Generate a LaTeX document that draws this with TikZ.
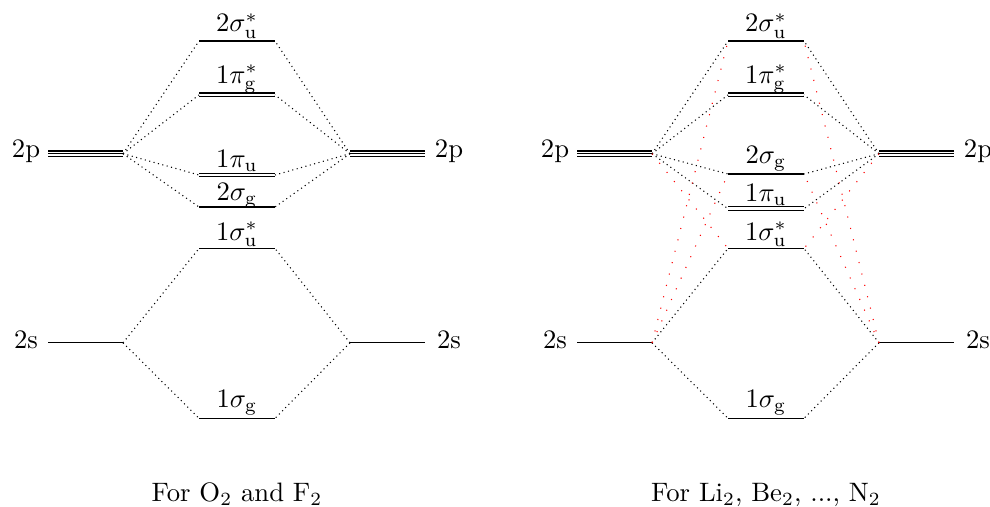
\documentclass[tikz,border=0pt]{standalone}
\begin{document}
\begin{tikzpicture}[x=0.375pt,y=-0.375pt,
  lvl/.style={line width=0.4pt},
  conn/.style={line width=0.4pt, dash pattern=on 0.4pt off 1.3pt},
  redconn/.style={red, line width=0.4pt, dash pattern=on 0.4pt off 4pt},
  atlab/.style={anchor=base, inner sep=0pt},
  molab/.style={anchor=base, inner sep=0pt}]
\useasboundingbox (0,0) rectangle (990,506);

\foreach \o/\p in {0/L,529/R}{
  % atomic 2p (triple) left and right
  \draw[lvl] (48+\o,151) -- (123+\o,151);
  \draw[lvl] (48+\o,153.7) coordinate (\p pA) -- (123+\o,153.7) coordinate (\p pAe);
  \draw[lvl] (48+\o,156.5) -- (123+\o,156.5);
  \draw[lvl] (350+\o,151) -- (425+\o,151);
  \draw[lvl] (350+\o,153.7) coordinate (\p pBe) -- (425+\o,153.7) coordinate (\p pB);
  \draw[lvl] (350+\o,156.5) -- (425+\o,156.5);
  \node[atlab] (\p pAlab) at (26+\o,157) {2p};
  \node[atlab] (\p pBlab) at (449+\o,157) {2p};
  % atomic 2s
  \draw[lvl] (48+\o,342.8) -- (123+\o,342.8) coordinate (\p sAe);
  \draw[lvl] (350+\o,342.8) coordinate (\p sBe) -- (425+\o,342.8);
  \node[atlab] (\p sAlab) at (26+\o,348.5) {2s};
  \node[atlab] (\p sBlab) at (449+\o,348.5) {2s};
  % 2sigma_u^*
  \draw[lvl] (199+\o,41) coordinate (\p suL) -- (275+\o,41) coordinate (\p suR);
  \node[molab] (\p sulab) at (237+\o,32) {$2\sigma_{\rm u}^*$};
  % 1pi_g^*
  \draw[lvl] (199+\o,93) -- (275+\o,93);
  \draw[lvl] (199+\o,96.8) -- (275+\o,96.8);
  \coordinate (\p pgL) at (199+\o,94.9);
  \coordinate (\p pgR) at (275+\o,94.9);
  \node[molab] (\p pglab) at (237+\o,83.3) {$1\pi_{\rm g}^*$};
  % 1sigma_u^*
  \draw[lvl] (199+\o,248.5) coordinate (\p ssuL) -- (275+\o,248.5) coordinate (\p ssuR);
  \node[molab] (\p ssulab) at (237+\o,240) {$1\sigma_{\rm u}^*$};
  % 1sigma_g
  \draw[lvl] (199+\o,418.3) coordinate (\p ssgL) -- (275+\o,418.3) coordinate (\p ssgR);
  \node[molab] (\p ssglab) at (237+\o,407) {$1\sigma_{\rm g}$};
}

% ---- left: 1pi_u above 2sigma_g
\draw[lvl] (199,173.3) -- (275,173.3);
\draw[lvl] (199,176.8) -- (275,176.8);
\coordinate (LpuL) at (199,175);
\coordinate (LpuR) at (275,175);
\node[molab] (Lpulab) at (237,167) {$1\pi_{\rm u}$};
\draw[lvl] (199,207) coordinate (LsgL) -- (275,207) coordinate (LsgR);
\node[molab] (Lsglab) at (237,200) {$2\sigma_{\rm g}$};

% ---- right: 2sigma_g above 1pi_u
\draw[lvl] (728,174) coordinate (RsgL) -- (804,174) coordinate (RsgR);
\node[molab] (Rsglab) at (766,163.3) {$2\sigma_{\rm g}$};
\draw[lvl] (728,206.8) -- (804,206.8);
\draw[lvl] (728,210.6) -- (804,210.6);
\coordinate (RpuL) at (728,208.7);
\coordinate (RpuR) at (804,208.7);
\node[molab] (Rpulab) at (766,201.7) {$1\pi_{\rm u}$};

% ---- black dotted connectors
\foreach \p in {L,R}{
  \foreach \m in {su,pg,pu,sg}{
    \draw[conn] (\p pAe) -- (\p \m L);
    \draw[conn] (\p pBe) -- (\p \m R);
  }
  \foreach \m in {ssu,ssg}{
    \draw[conn] (\p sAe) -- (\p \m L);
    \draw[conn] (\p sBe) -- (\p \m R);
  }
}

% ---- red dotted (s-p mixing) connectors, right diagram only
\draw[redconn] (RsAe) -- (RsuL);
\draw[redconn] (RsAe) -- (RsgL);
\draw[redconn] (RpAe) -- (RssuL);
\draw[redconn] (RsBe) -- (RsuR);
\draw[redconn] (RsBe) -- (RsgR);
\draw[redconn] (RpBe) -- (RssuR);

% ---- captions
\node[anchor=base, inner sep=0pt] (capL) at (237,501) {For O$_2$ and F$_2$};
\node[anchor=base, inner sep=0pt] (capR) at (766,501) {For Li$_2$, Be$_2$, ..., N$_2$};
\end{tikzpicture}
\end{document}
